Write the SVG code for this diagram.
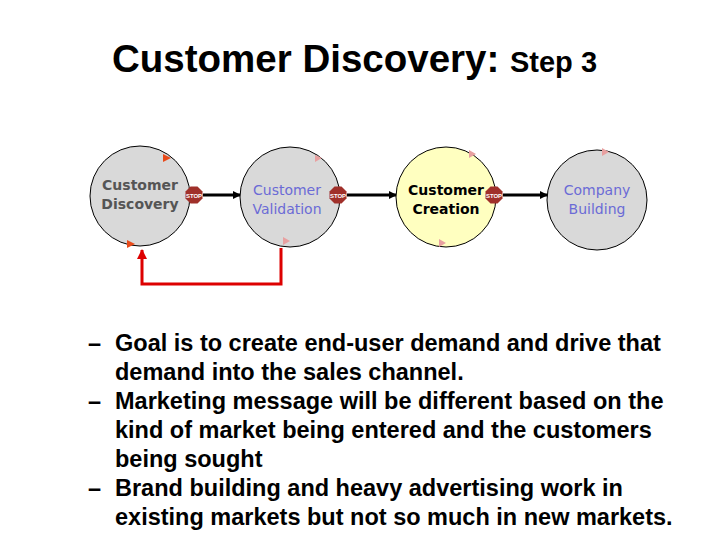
<svg xmlns="http://www.w3.org/2000/svg" width="720" height="540" viewBox="0 0 720 540">
<defs>
<marker id="ab" markerWidth="8" markerHeight="8" refX="7" refY="4" orient="auto" markerUnits="userSpaceOnUse"><path d="M0,0 L8,4 L0,8 z" fill="#000"/></marker>
<marker id="ar" markerWidth="10" markerHeight="10" refX="9" refY="5" orient="auto" markerUnits="userSpaceOnUse"><path d="M0,0 L10,5 L0,10 z" fill="#d00"/></marker>
<g id="stop"><polygon points="-3.5,-8.5 3.5,-8.5 8.5,-3.5 8.5,3.5 3.5,8.5 -3.5,8.5 -8.5,3.5 -8.5,-3.5" fill="#a0302a"/><text x="0" y="2.5" font-size="6" fill="#fff" text-anchor="middle" font-family="Liberation Sans, sans-serif" font-weight="bold">STOP</text></g>
</defs>
<style>
.c{stroke:#000;stroke-width:1}
.t{font-family:"DejaVu Sans",sans-serif;font-size:14px;text-anchor:middle}
.b{font-family:"Liberation Sans",Arial,sans-serif;font-size:23.5px;font-weight:bold;fill:#000}
</style>
<text x="112" y="72" font-family="Liberation Sans, Arial, sans-serif" font-size="38.5" font-weight="bold" fill="#000">Customer Discovery: <tspan font-size="29">Step 3</tspan></text>
<g id="connectors" fill="none">
<line x1="203" y1="195" x2="240" y2="195" stroke="#000" stroke-width="3" marker-end="url(#ab)"/>
<line x1="347" y1="195" x2="396" y2="195" stroke="#000" stroke-width="3" marker-end="url(#ab)"/>
<line x1="503" y1="195" x2="547" y2="195" stroke="#000" stroke-width="3" marker-end="url(#ab)"/>
<polyline points="281,248 281,284 142,284 142,250" stroke="#d00" stroke-width="3" marker-end="url(#ar)"/>
</g>
<g id="n1"><circle cx="140" cy="196" r="50" fill="#d9d9d9" class="c"/>
<polygon points="163,154 171,158 163,162" fill="#e84a1a"/><polygon points="127,240 135,244 127,248" fill="#e84a1a"/>
<text class="t" x="140" y="190" fill="#555" font-weight="bold" font-size="15">Customer</text><text class="t" x="140" y="209" fill="#555" font-weight="bold" font-size="15">Discovery</text>
<use href="#stop" x="194" y="195"/></g>
<g id="n2"><circle cx="290" cy="197" r="50" fill="#d9d9d9" class="c"/>
<polygon points="315,155 322,158 315,162" fill="#e8a0a0"/><polygon points="283,237 290,241 283,245" fill="#e8a0a0"/>
<text class="t" x="287" y="195" fill="#6b6bd6">Customer</text><text class="t" x="287" y="214" fill="#6b6bd6">Validation</text>
<use href="#stop" x="338" y="195"/></g>
<g id="n3"><circle cx="446" cy="197" r="50" fill="#ffffc0" class="c"/>
<polygon points="469,150 476,154 469,158" fill="#e8a0a0"/><polygon points="439,239 446,243 439,247" fill="#e8a0a0"/>
<text class="t" x="446" y="195" fill="#000" font-weight="bold">Customer</text><text class="t" x="446" y="214" fill="#000" font-weight="bold">Creation</text>
<use href="#stop" x="494" y="195"/></g>
<g id="n4"><circle cx="597" cy="200" r="50" fill="#d9d9d9" class="c"/>
<polygon points="602,148 609,152 602,156" fill="#e8a0a0"/>
<text class="t" x="597" y="195" fill="#6b6bd6">Company</text><text class="t" x="597" y="214" fill="#6b6bd6">Building</text></g>
<g id="text">
<text class="b" x="88" y="351">–</text><text class="b" x="115" y="351">Goal is to create end-user demand and drive that</text>
<text class="b" x="115" y="380">demand into the sales channel.</text>
<text class="b" x="88" y="409">–</text><text class="b" x="115" y="409">Marketing message will be different based on the</text>
<text class="b" x="115" y="438">kind of market being entered and the customers</text>
<text class="b" x="115" y="467">being sought</text>
<text class="b" x="88" y="496">–</text><text class="b" x="115" y="496">Brand building and heavy advertising work in</text>
<text class="b" x="115" y="525">existing markets but not so much in new markets.</text>
</g>
</svg>
